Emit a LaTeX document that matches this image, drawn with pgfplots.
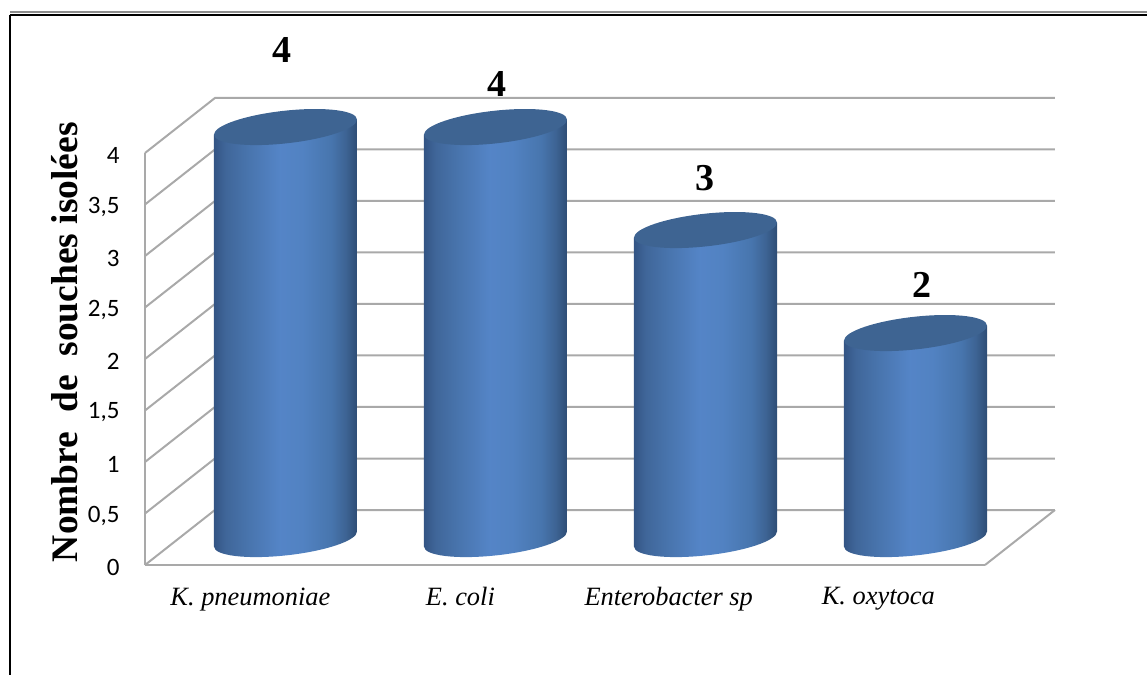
\documentclass[border=0pt]{standalone}
\usepackage{pgfplots}
\usepackage{pgfplotstable}
\usepackage{fontspec}
\pgfplotsset{compat=1.18}
\setmainfont{Liberation Serif}
\newfontfamily\calibrifont{Carlito}

\definecolor{gridgray}{HTML}{A9A9A9}
\definecolor{capblue}{HTML}{3E6492}

% Left-to-right light falloff across the round body of a cylinder
\pgfdeclarehorizontalshading{cylbody}{100bp}{%
  rgb(0bp)=(0.20,0.33,0.52);
  rgb(25bp)=(0.20,0.33,0.52);
  rgb(29bp)=(0.25,0.40,0.60);
  rgb(36bp)=(0.28,0.45,0.67);
  rgb(48bp)=(0.33,0.52,0.78);
  rgb(56bp)=(0.32,0.51,0.76);
  rgb(66bp)=(0.28,0.46,0.68);
  rgb(71bp)=(0.24,0.39,0.58);
  rgb(75bp)=(0.18,0.30,0.46);
  rgb(100bp)=(0.18,0.30,0.46)}

% Caps of the cylinders: sheared ellipses, same tilt top and bottom
\pgfdeclareplotmark{captop}{%
  \pgfpathellipse{\pgfpointorigin}{\pgfpoint{71.5pt}{7.5pt}}{\pgfpoint{0pt}{16.4pt}}%
  \pgfusepathqfill}
\pgfdeclareplotmark{capbottom}{%
  \pgfpathellipse{\pgfpointorigin}{\pgfpoint{71.5pt}{7.5pt}}{\pgfpoint{0pt}{16.4pt}}%
  \pgfshadepath{cylbody}{0}%
  \pgfusepath{discard}}

% Strains per species; ldx/ldy move each value label off its cylinder top
\pgfplotstableread{
x v ldx ldy
0 4 -3 77
1 4 2 43
2 3 0 52
3 2 7 48
}\bars

% Side silhouette of a cylinder: offset in x, share of the value, tilt in y
\pgfplotstableread{
dx fv dy
-0.3405 1 -0.0728
0.3405 1 0.0728
0.3405 0 0.0728
-0.3405 0 -0.0728
}\outline

\pgfmathsetmacro{\baseshift}{0.252}

\begin{document}
\begin{tikzpicture}
\begin{axis}[
  at={(0pt,0pt)}, anchor=south west,
  scale only axis, width=840pt, height=412pt,
  xmin=-0.669, xmax=3.331, ymin=0, ymax=4,
  clip=false,
  axis x line=bottom, axis y line=left,
  axis line style={-, draw=gridgray, line width=2pt},
  major tick length=0pt,
  xtick={-0.167,0.833,1.825,2.823},
  xticklabels={K. pneumoniae, E. coli, Enterobacter sp, K. oxytoca},
  xticklabel style={font=\fontsize{26.4}{30}\selectfont\itshape, yshift=-19pt},
  ytick={0,0.5,1,1.5,2,2.5,3,3.5,4},
  yticklabels={0,{0,5},1,{1,5},2,{2,5},3,{3,5},4},
  yticklabel style={font=\fontsize{25}{28}\selectfont\calibrifont, xshift=-22pt, yshift=-2pt},
  ylabel={Nombre\ \ de\ \ souches isolées},
  every axis y label/.style={at={(axis description cs:-0.095,0.541)}, rotate=90, anchor=center,
    font=\fontsize{37.5}{42}\selectfont\bfseries},
]
% Side wall diagonals and back wall grid
\pgfplotsinvokeforeach{0,0.5,1,1.5,2,2.5,3,3.5,4}{
  \addplot[gridgray, line width=2pt, forget plot]
    coordinates {(-0.669,#1) (-0.336,#1+0.534) (3.664,#1+0.534)};
}
% Floor edge on the right
\addplot[gridgray, line width=2pt, forget plot]
  coordinates {(3.331,0) (3.664,0.534)};

% Cylinders: bottom cap, body, then top cap carrying the value label
\addplot[only marks, mark=capbottom, forget plot]
  table[x=x, y expr=\baseshift] {\bars};
\pgfplotsinvokeforeach{0,1,2,3}{
  \pgfplotstablegetelem{#1}{v}\of\bars
  \let\barvalue\pgfplotsretval
  \addplot[draw=none, shade, shading=cylbody, forget plot]
    table[x expr=\thisrow{dx}+#1, y expr=\thisrow{fv}*\barvalue+\thisrow{dy}+\baseshift] {\outline} -- cycle;
}
\addplot[only marks, mark=captop, mark options={fill=capblue, draw=none}, forget plot,
  point meta=\thisrow{v},
  visualization depends on={\thisrow{ldx}\as\labeldx},
  visualization depends on={\thisrow{ldy}\as\labeldy},
  nodes near coords={\pgfmathprintnumber[assume math mode=true]{\pgfplotspointmeta}},
  every node near coord/.append style={font=\fontsize{38}{42}\selectfont\bfseries,
    anchor=center, inner sep=0pt, xshift=\labeldx pt, yshift=\labeldy pt},
] table[x=x, y expr=\thisrow{v}+\baseshift] {\bars};
\end{axis}

% Page rule above and to the left of the figure
\draw[line width=2pt, black!45] (-135pt,553pt) -- (1002pt,553pt);
\draw[line width=2pt, black] (-135pt,550pt) -- (1002pt,550pt);
\draw[line width=2pt, black] (-134.5pt,550pt) -- (-134.5pt,-110pt);

\pgfresetboundingbox
\path[use as bounding box] (-145pt,-110pt) rectangle (1002pt,565pt);
\end{tikzpicture}
\end{document}
